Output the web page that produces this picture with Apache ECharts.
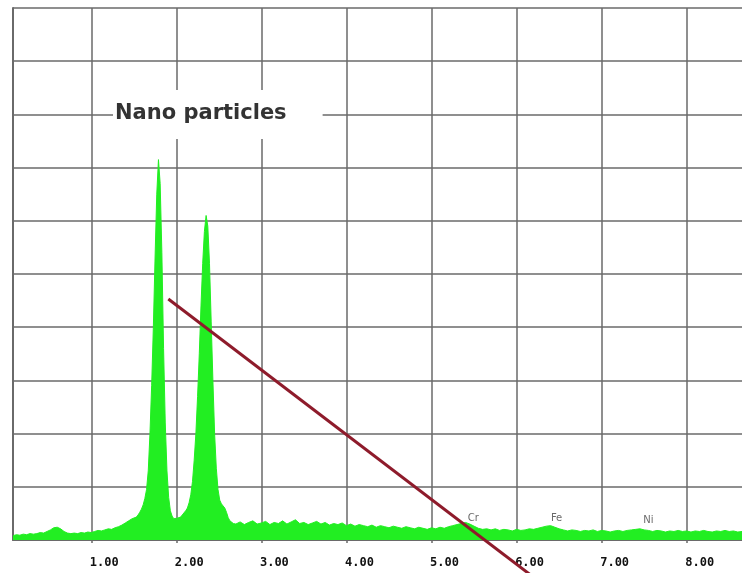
<!DOCTYPE html>
<html>
<head>
<meta charset="utf-8">
<script src="https://cdn.jsdelivr.net/npm/echarts@6/dist/echarts.min.js"></script>
<style>
html,body{margin:0;padding:0;background:#fff;}
#chart{width:742px;height:573px;}
</style>
</head>
<body>
<div id="chart"></div>
<script>
// ---- data ----
const energies = [
  0.08,0.12,0.16,0.20,0.24,0.28,0.32,0.36,0.40,0.44,0.48,0.52,0.56,0.60,0.64,0.68,0.72,0.76,0.80,0.84,
  0.88,0.92,0.96,1.00,1.04,1.08,1.12,1.16,1.20,1.24,1.28,1.32,1.36,1.40,1.44,1.48,
  1.53,1.55,1.57,1.59,1.61,1.63,1.65,1.67,1.69,1.71,1.73,1.75,1.77,1.79,1.81,1.83,1.85,1.87,1.89,1.91,
  1.93,1.95,1.97,1.99,2.01,2.03,2.05,2.07,2.09,2.11,2.13,2.15,2.17,2.19,2.21,2.23,2.25,2.27,2.29,2.31,
  2.33,2.35,2.37,2.39,2.41,2.43,2.45,2.47,2.49,2.51,2.53,2.55,2.57,2.59,2.61,2.63,2.65,2.67,
  2.70,2.75,2.80,2.85,2.90,2.95,3.00,3.05,3.10,3.15,3.20,3.25,3.30,3.35,3.40,3.45,3.50,3.55,3.60,3.65,
  3.70,3.75,3.80,3.85,3.90,3.95,4.00,4.05,4.10,4.15,4.20,4.25,4.30,4.35,4.40,4.45,4.50,4.55,4.60,4.65,
  4.70,4.75,4.80,4.85,4.90,4.95,5.00,5.05,5.10,5.15,5.20,5.25,5.30,5.35,5.40,5.45,5.50,5.55,5.60,5.65,
  5.70,5.75,5.80,5.85,5.90,5.95,6.00,6.05,6.10,6.15,6.20,6.25,6.30,6.35,6.40,6.45,6.50,6.55,6.60,6.65,
  6.70,6.75,6.80,6.85,6.90,6.95,7.00,7.05,7.10,7.15,7.20,7.25,7.30,7.35,7.40,7.45,7.50,7.55,7.60,7.65,
  7.70,7.75,7.80,7.85,7.90,7.95,8.00,8.05,8.10,8.15,8.20,8.25,8.30,8.35,8.40,8.45,8.50,8.55,8.60,8.65
];
const counts = [
  0.08,0.10,0.09,0.11,0.10,0.12,0.11,0.12,0.14,0.13,0.16,0.19,0.23,0.24,0.21,0.16,0.13,0.12,0.13,0.12,
  0.14,0.13,0.15,0.14,0.16,0.18,0.17,0.19,0.21,0.20,0.23,0.25,0.28,0.32,0.36,0.40,
  0.43,0.47,0.52,0.58,0.66,0.78,0.95,1.30,2.00,2.90,4.00,5.30,6.50,7.15,6.70,5.40,3.60,2.20,1.30,0.80,
  0.55,0.45,0.40,0.38,0.41,0.44,0.43,0.47,0.50,0.55,0.60,0.70,0.85,1.10,1.50,2.00,2.70,3.50,4.40,5.20,
  5.80,6.10,5.90,5.20,4.10,3.00,2.00,1.35,0.95,0.75,0.68,0.64,0.60,0.52,0.42,0.36,0.33,0.31,
  0.30,0.34,0.29,0.33,0.36,0.30,0.32,0.35,0.29,0.33,0.31,0.36,0.30,0.34,0.38,0.31,0.33,0.29,0.32,0.35,
  0.30,0.33,0.28,0.31,0.29,0.32,0.27,0.30,0.26,0.29,0.27,0.25,0.28,0.24,0.27,0.25,0.23,0.26,0.24,0.22,
  0.25,0.23,0.21,0.24,0.22,0.20,0.23,0.21,0.24,0.22,0.25,0.27,0.29,0.31,0.33,0.30,0.26,0.22,0.20,0.21,
  0.19,0.21,0.18,0.20,0.19,0.17,0.20,0.18,0.19,0.21,0.20,0.22,0.24,0.26,0.27,0.24,0.21,0.19,0.17,0.19,
  0.18,0.16,0.18,0.17,0.19,0.16,0.18,0.17,0.15,0.17,0.18,0.16,0.18,0.19,0.20,0.21,0.19,0.18,0.16,0.18,
  0.17,0.15,0.17,0.16,0.18,0.16,0.17,0.15,0.17,0.16,0.18,0.16,0.15,0.17,0.16,0.18,0.16,0.17,0.15,0.16
];
const xTickValues = [1, 2, 3, 4, 5, 6, 7, 8];
const xTickLabels = ['1.00', '2.00', '3.00', '4.00', '5.00', '6.00', '7.00', '8.00'];
const elementNames = ['Cr', 'Fe', 'Ni'];
const elementEnergies = [5.49, 6.47, 7.55];
const elementLabelHeights = [0.40, 0.40, 0.37];
const pointerLineX = [1.906, 6.20];
const pointerLineY = [4.53, -0.70];
const titleText = 'Nano particles';

// ---- chart ----
const gridColor = '#6a6a6a';
const chart = echarts.init(document.getElementById('chart'));
chart.setOption({
  animation: false,
  backgroundColor: '#fff',
  title: {
    text: titleText,
    left: 113,
    top: 90,
    backgroundColor: '#fff',
    padding: [13, 36, 15, 2],
    textStyle: {fontFamily: 'DejaVu Sans', fontWeight: 'bold', fontSize: 21, color: '#333'}
  },
  grid: {left: 13, top: 8, width: 731, bottom: 33},
  xAxis: {
    type: 'value', min: 0.08, max: 8.65,
    axisLine: {show: true, lineStyle: {color: gridColor, width: 2}},
    axisTick: {show: true, length: 3, customValues: xTickValues, lineStyle: {color: gridColor, width: 1.5}},
    splitLine: {show: true, lineStyle: {color: gridColor, width: 1.5}},
    axisLabel: {
      customValues: xTickValues,
      formatter: v => xTickLabels[xTickValues.indexOf(Math.round(v))] || '',
      fontFamily: 'DejaVu Sans Mono', fontWeight: 'bold', fontSize: 12, color: '#111',
      margin: 17, padding: [0, 0, 0, 26]
    }
  },
  yAxis: {
    type: 'value', min: 0, max: 10, interval: 1,
    axisLine: {show: true, lineStyle: {color: gridColor, width: 2}},
    axisTick: {show: false},
    axisLabel: {show: false},
    splitLine: {show: true, lineStyle: {color: gridColor, width: 1.5}}
  },
  series: [
    {
      type: 'line', symbol: 'none', z: 2,
      data: energies.map((e, i) => [e, counts[i]]),
      lineStyle: {color: '#22ee22', width: 1},
      areaStyle: {color: '#22ee22', opacity: 1}
    },
    {
      type: 'scatter', symbolSize: 0, z: 3, silent: true,
      data: elementNames.map((n, i) => [elementEnergies[i], elementLabelHeights[i], n]),
      label: {show: true, position: 'inside', formatter: p => p.value[2],
              fontFamily: 'DejaVu Sans', fontSize: 10, color: '#444'}
    },
    {
      type: 'line', symbol: 'none', z: 5, clip: false, silent: true,
      data: pointerLineX.map((x, i) => [x, pointerLineY[i]]),
      lineStyle: {color: '#8e1b2b', width: 3}
    }
  ]
});
</script>
</body>
</html>
